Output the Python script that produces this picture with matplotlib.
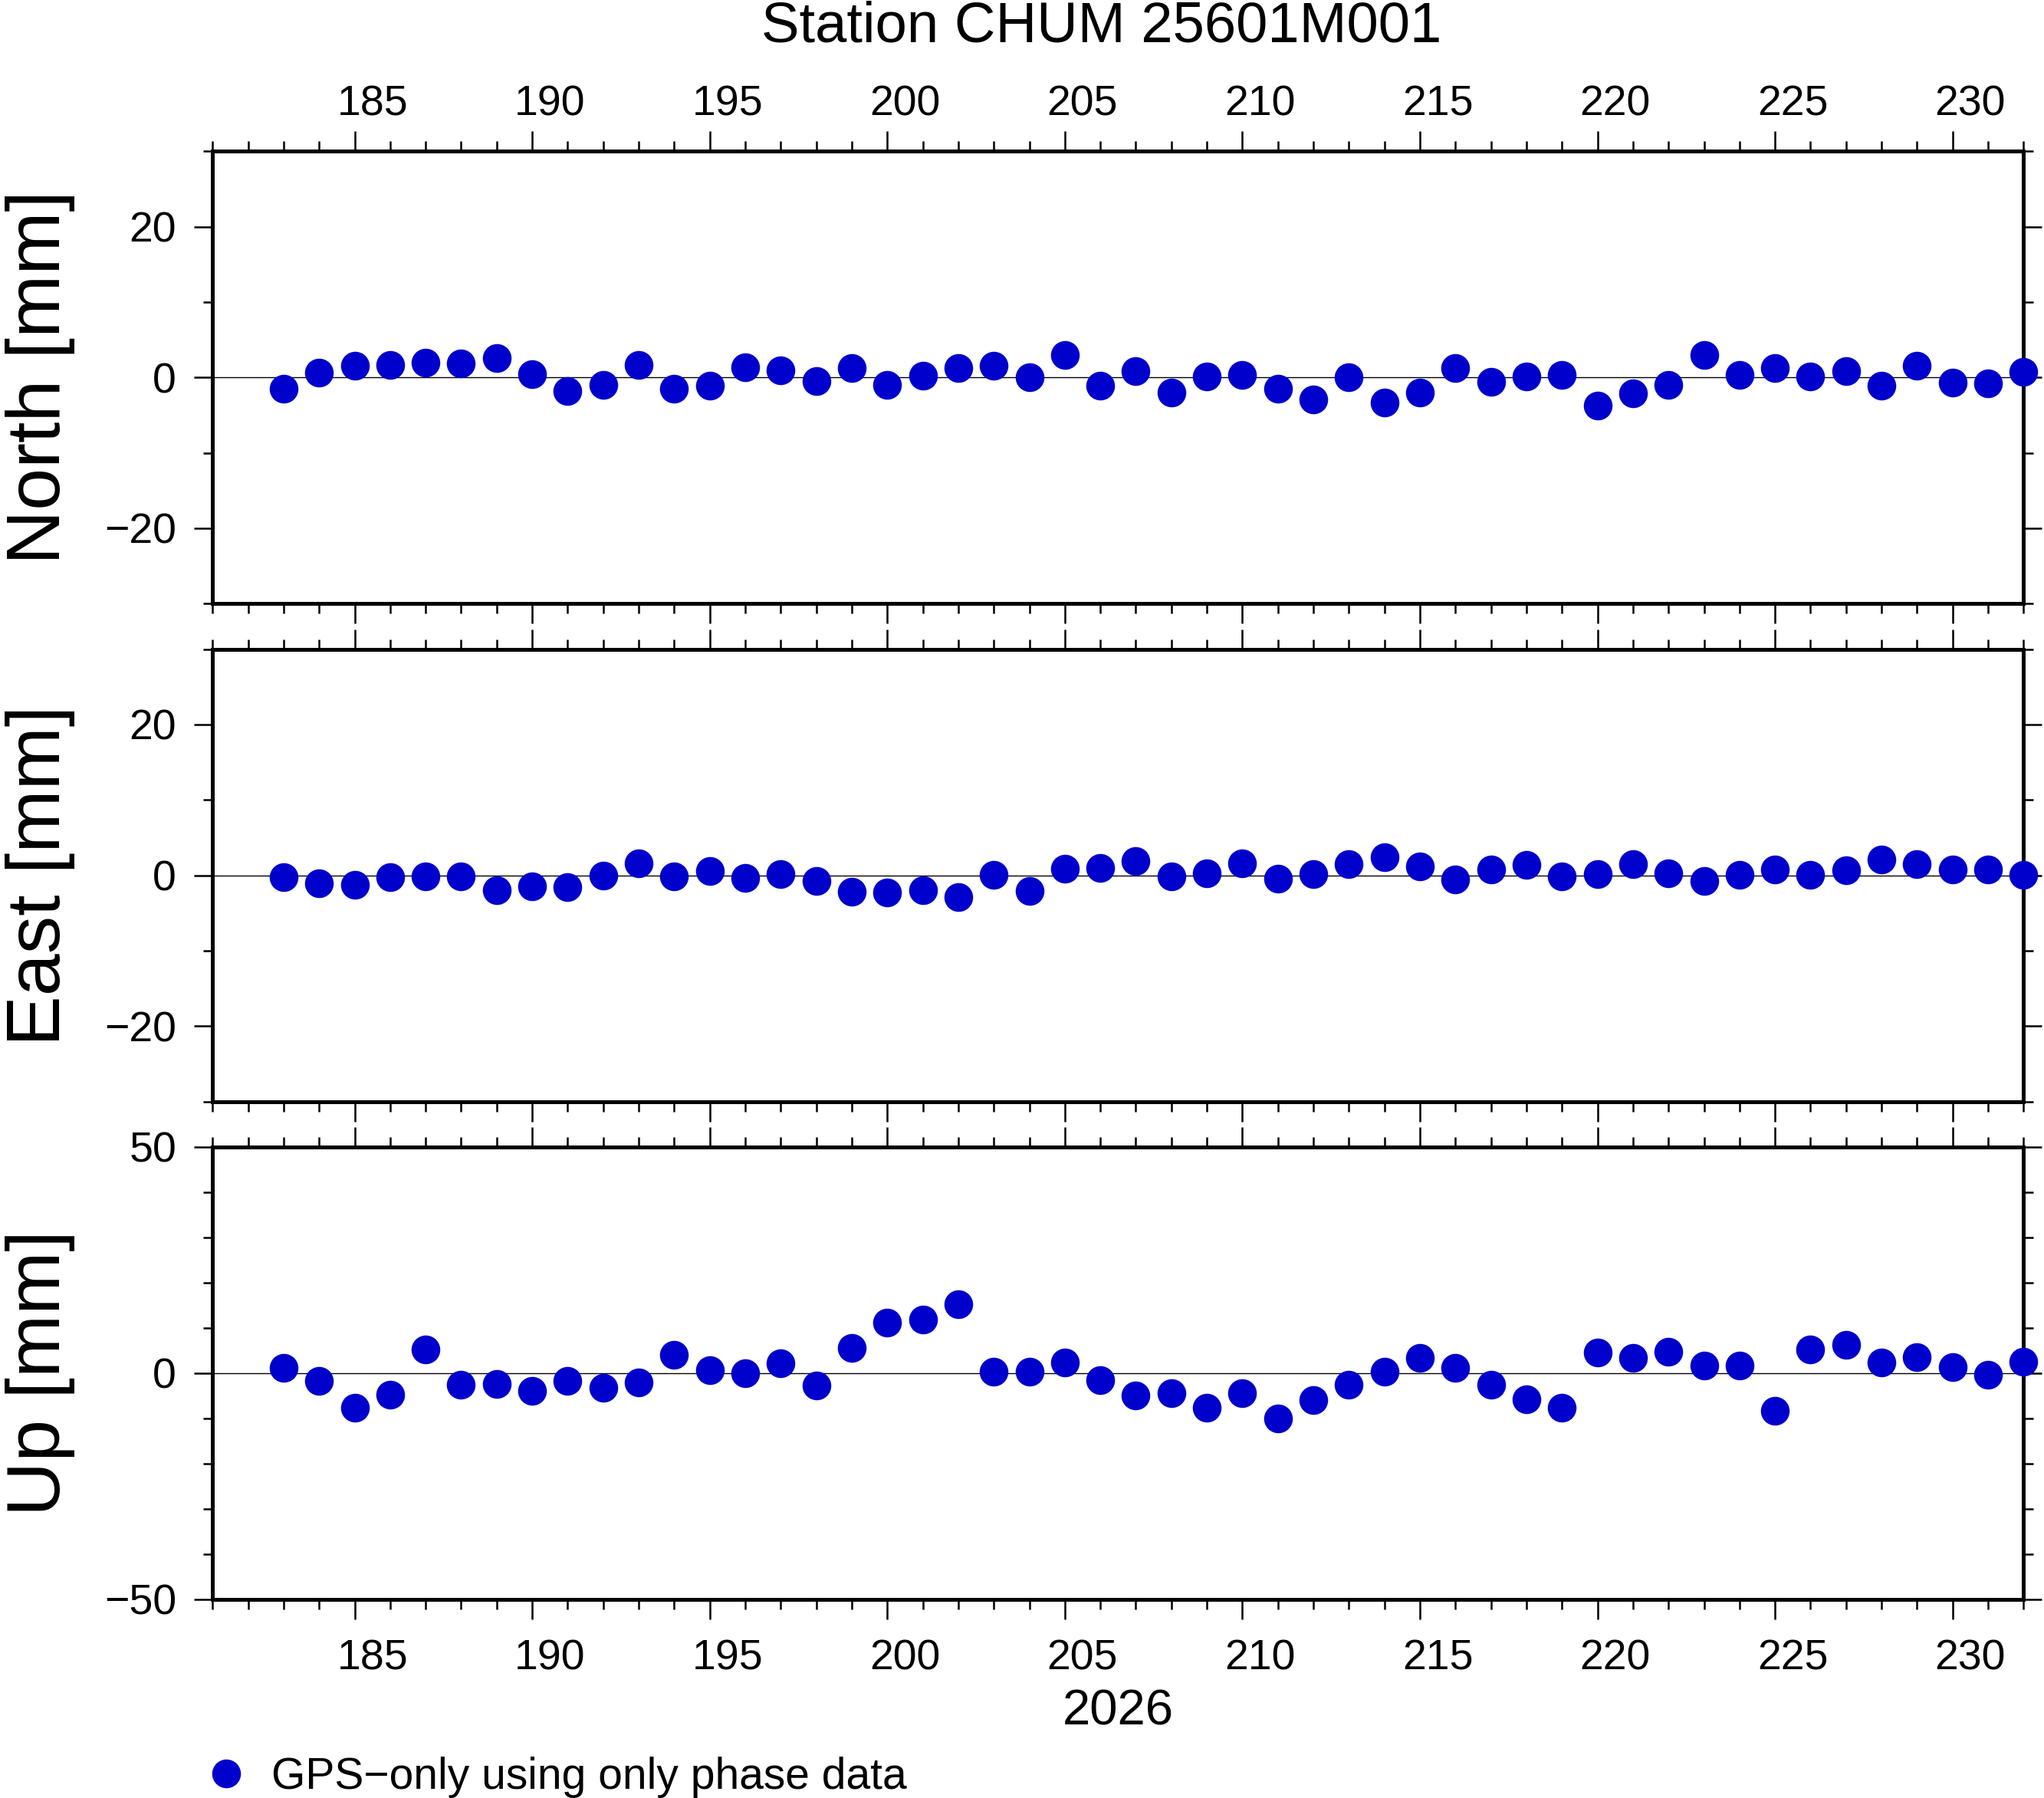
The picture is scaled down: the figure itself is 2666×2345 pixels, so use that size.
import matplotlib
matplotlib.use("Agg")
import matplotlib.pyplot as plt
from matplotlib.ticker import MultipleLocator, NullFormatter, FixedLocator, NullLocator

plt.rcParams['font.family'] = ['Liberation Sans', 'DejaVu Sans']

title = "Station CHUM 25601M001"
year_label = "2026"
legend_label = "GPS\u2212only using only phase data"
panel_names = ["North [mm]", "East [mm]", "Up [mm]"]
day_tick_labels = [185, 190, 195, 200, 205, 210, 215, 220, 225, 230]

days = [183, 184, 185, 186, 187, 188, 189, 190, 191, 192,
        193, 194, 195, 196, 197, 198, 199, 200, 201, 202,
        203, 204, 205, 206, 207, 208, 209, 210, 211, 212,
        213, 214, 215, 216, 217, 218, 219, 220, 221, 222,
        223, 224, 225, 226, 227, 228, 229, 230, 231, 232]

north = [-1.55, 0.67, 1.51, 1.6, 1.97, 1.85, 2.6, 0.38, -1.85, -1.0,
         1.6, -1.55, -1.13, 1.3, 0.97, -0.5, 1.22, -1.0, 0.2, 1.22,
         1.51, 0.0, 2.98, -1.05, 0.88, -1.97, 0.08, 0.29, -1.55, -2.94,
         0.0, -3.36, -2.06, 1.22, -0.63, 0.08, 0.29, -3.78, -2.14, -1.0,
         2.94, 0.29, 1.22, 0.08, 0.88, -1.13, 1.51, -0.71, -0.8, 0.76]

east = [-0.27, -1.1, -1.3, -0.27, -0.1, -0.1, -2.0, -1.5, -1.6, 0.0,
        1.6, -0.1, 0.6, -0.4, 0.2, -0.8, -2.2, -2.3, -2.0, -2.9,
        0.1, -2.1, 0.9, 1.0, 1.93, -0.1, 0.3, 1.6, -0.5, 0.2,
        1.5, 2.4, 1.2, -0.6, 0.8, 1.4, -0.1, 0.2, 1.5, 0.3,
        -0.8, 0.1, 0.8, 0.1, 0.7, 2.1, 1.5, 0.8, 0.8, 0.1]

up = [1.24, -1.64, -7.6, -4.7, 5.3, -2.5, -2.4, -3.9, -1.64, -3.2,
      -2.0, 4.1, 0.7, -0.1, 2.1, -2.7, 5.5, 11.2, 11.9, 15.3,
      0.3, 0.3, 2.3, -1.5, -5.0, -4.4, -7.7, -4.4, -10.1, -5.9,
      -2.5, 0.4, 3.3, 1.1, -2.5, -5.7, -7.7, 4.6, 3.4, 4.8,
      1.6, 1.75, -8.4, 5.3, 6.3, 2.3, 3.6, 1.4, -0.3, 2.6]

series = [north, east, up]
ylims = [(-30, 30), (-30, 30), (-50, 50)]
ymajor = [20, 20, 50]
yminor = [10, 10, 10]
xlim = (181, 232)

color = "#0000CC"

fig = plt.figure(figsize=(26.66, 23.45), dpi=100)

left, width, height = 0.104, 0.886, 0.2516
bottoms = [0.6643, 0.3874, 0.1105]

tick_fs = 40
axes = []
for i, (vals, yl, ymj, ymn, name) in enumerate(zip(series, ylims, ymajor, yminor, panel_names)):
    ax = fig.add_axes([left, bottoms[i], width, height])
    axes.append(ax)
    ax.set_xlim(*xlim)
    ax.set_ylim(*yl)
    ax.axhline(0, color='black', lw=1.0, zorder=1)
    line, = ax.plot(days, vals, linestyle='none', marker='o', markersize=27,
                    markerfacecolor=color, markeredgewidth=0, color=color,
                    clip_on=False, zorder=4, label=legend_label)
    for sp in ax.spines.values():
        sp.set_linewidth(3.6)
    ax.xaxis.set_major_locator(MultipleLocator(5))
    ax.xaxis.set_minor_locator(MultipleLocator(1))
    ax.xaxis.set_major_formatter(NullFormatter())
    ax.yaxis.set_major_locator(MultipleLocator(ymj))
    ax.yaxis.set_minor_locator(MultipleLocator(ymn))
    ax.tick_params(axis='x', which='both', direction='out', top=True, bottom=True,
                   labelbottom=False, labeltop=False)
    ax.tick_params(axis='x', which='major', length=19, width=1.8)
    ax.tick_params(axis='x', which='minor', length=9.5, width=1.8)
    ax.tick_params(axis='y', which='both', direction='out', left=True, right=True,
                   labelright=False)
    ax.tick_params(axis='y', which='major', length=17, width=1.8, labelsize=tick_fs, pad=17)
    ax.tick_params(axis='y', which='minor', length=9, width=1.8)
    ax.set_ylabel(name, fontsize=71)
    ax.yaxis.label.set_va('center')
    ax.yaxis.set_label_coords(-0.095, 0.5)

# day labels centred within each day interval
def fwd(x):
    return x - 0.5

def inv(x):
    return x + 0.5

sec_top = axes[0].secondary_xaxis('top', functions=(fwd, inv))
sec_top.xaxis.set_major_locator(FixedLocator(day_tick_labels))
sec_top.xaxis.set_minor_locator(NullLocator())
sec_top.tick_params(axis='x', which='both', length=0, labelsize=tick_fs, pad=25)
sec_top.spines['top'].set_visible(False)

sec_bot = axes[2].secondary_xaxis('bottom', functions=(fwd, inv))
sec_bot.xaxis.set_major_locator(FixedLocator(day_tick_labels))
sec_bot.xaxis.set_minor_locator(NullLocator())
sec_bot.tick_params(axis='x', which='both', length=0, labelsize=tick_fs, pad=37)
sec_bot.spines['bottom'].set_visible(False)

fig.text(0.539, 0.985, title, ha='center', va='center', fontsize=53.5)
fig.text(0.547, 0.048, year_label, ha='center', va='center', fontsize=47)

fig.legend(handles=[line], loc='center left', bbox_to_anchor=(0.0998, 0.0115),
           frameon=False, fontsize=41, handlelength=1.0, handletextpad=0.54,
           borderpad=0, borderaxespad=0, numpoints=1)

fig.savefig("out.png", dpi=100)
